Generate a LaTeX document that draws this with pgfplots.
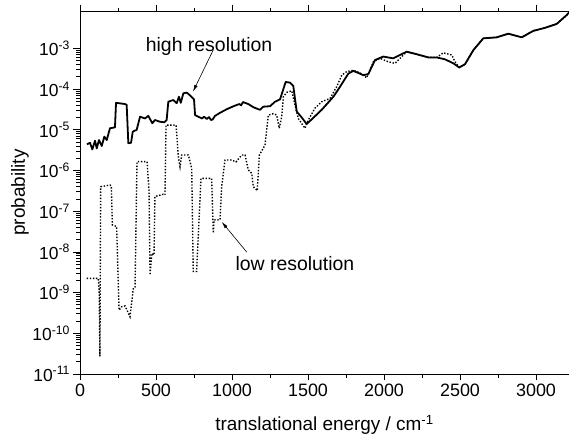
\documentclass[border=0pt]{standalone}
\usepackage{fontspec}
\setmainfont{Liberation Sans}
\usepackage{pgfplots}
\pgfplotsset{compat=1.18}
\usetikzlibrary{arrows.meta}
\newcommand\yl[1]{\fontsize{17.5}{19}\selectfont 10\textsuperscript{#1}}
\begin{document}
\begin{tikzpicture}
\begin{axis}[
  scale only axis, width=489bp, height=363bp,
  ymode=log, xmin=0, xmax=3217, ymin=1e-11, ymax=8.3e-3,
  axis x line*=box, axis y line*=left,
  axis line style={line width=0.9pt,-},
  every outer x axis line/.append style={-},
  every outer y axis line/.append style={-},
  xtick={0,500,1000,1500,2000,2500,3000}, minor x tick num=1,
  ytick={1e-11,1e-10,1e-9,1e-8,1e-7,1e-6,1e-5,1e-4,1e-3},
  yticklabels={\yl{-11},\yl{-10},\yl{-9},\yl{-8},\yl{-7},\yl{-6},\yl{-5},\yl{-4},\yl{-3}},
  tick align=outside,
  major tick length=6.5bp, minor tick length=3.5bp,
  tick style={line width=0.8pt, black},
  /pgf/number format/assume math mode=true,
  /pgf/number format/1000 sep={},
  xticklabel style={font=\fontsize{18}{20}\selectfont},
  xlabel={translational energy / cm\textsuperscript{-1}},
  ylabel={probability},
  xlabel style={font=\fontsize{19}{22}\selectfont, at={(axis description cs:0.5,0)}, anchor=center, yshift=-51bp},
  ylabel style={font=\fontsize{19}{22}\selectfont, at={(axis description cs:-0.1227,0.5)}, anchor=center},
]
\coordinate (O) at (rel axis cs:0,0);
\addplot[black, line width=1.4pt, dash pattern=on 1.4pt off 1.7pt] coordinates {
(44,2.24e-9)(120,2.24e-9)(126,1.2e-9)(131,2.7e-11)(136,4.0e-7)(197,4.4e-7)(206,4.2e-7)(213,4.6e-8)(241,4.2e-8)(257,3.7e-10)(274,4.5e-10)(296,4.7e-10)(314,3.4e-10)(329,2.56e-10)(351,1.3e-9)(362,1.37e-9)(375,1.65e-6)(441,1.65e-6)(454,3.3e-7)(461,2.7e-9)(472,9.2e-9)(487,8.4e-9)(493,2.3e-7)(548,2.6e-7)(559,2.5e-7)(566,1.31e-5)(632,1.3e-5)(647,2.2e-6)(658,1.24e-6)(669,2.4e-6)(713,2.4e-6)(735,1.13e-6)(745,3.3e-9)(767,3.3e-9)(796,6.4e-7)(866,6.4e-7)(877,2.9e-8)(882,6.1e-8)(921,6.1e-8)(932,4.0e-7)(954,1.81e-6)(998,1.81e-6)(1026,1.62e-6)(1064,2.4e-6)(1086,2.4e-6)(1107,1.03e-6)(1130,8.5e-7)(1140,4.0e-7)(1166,3.2e-7)(1180,2.4e-6)(1217,4.2e-6)(1239,2.3e-5)(1272,2.5e-5)(1294,2.3e-5)(1311,1.09e-5)(1327,2.1e-5)(1338,6.5e-5)(1360,8.3e-5)(1393,9.1e-5)(1414,4.1e-5)(1436,1.9e-5)(1480,1.09e-5)(1502,1.74e-5)(1546,3.4e-5)(1590,4.9e-5)(1645,5.9e-5)(1689,1.15e-4)(1722,2.2e-4)(1755,2.7e-4)(1798,2.9e-4)(1842,2.5e-4)(1886,1.9e-4)(1930,4.7e-4)(1974,5.7e-4)(2028,4.7e-4)(2072,4.3e-4)(2105,5.7e-4)(2149,8.3e-4)(2215,7.2e-4)(2292,6.0e-4)(2347,6.0e-4)(2390,7.8e-4)(2446,6.9e-4)(2467,4.7e-4)(2495,3.4e-4)(2533,4.1e-4)(2588,9.1e-4)(2653,1.77e-3)(2741,1.87e-3)(2818,2.3e-3)(2906,1.87e-3)(2982,2.7e-3)(3059,3.2e-3)(3136,4.0e-3)(3202,6.6e-3)(3217,7.6e-3)
};
\addplot[black, line width=1.8pt, line join=round] coordinates {
(46,4.4e-6)(66,4.8e-6)(81,3.3e-6)(99,5.4e-6)(110,3.5e-6)(125,5.6e-6)(143,4.0e-6)(160,6.8e-6)(176,5.6e-6)(197,1.09e-5)(230,1.15e-5)(237,4.6e-5)(296,4.3e-5)(307,4.1e-5)(318,4.7e-6)(336,4.8e-6)(347,9.0e-6)(373,1.0e-5)(395,2.1e-5)(428,1.9e-5)(449,2.2e-5)(476,1.45e-5)(493,1.74e-5)(526,1.58e-5)(555,1.53e-5)(570,1.74e-5)(581,4.9e-5)(614,5.4e-5)(636,4.5e-5)(651,6.5e-5)(663,4.6e-5)(680,7.9e-5)(702,8.2e-5)(728,6.8e-5)(750,5.6e-5)(757,2.3e-5)(778,2.1e-5)(803,1.9e-5)(816,2.1e-5)(834,1.85e-5)(849,2.05e-5)(862,1.74e-5)(873,1.8e-5)(888,2.2e-5)(920,2.6e-5)(965,3.2e-5)(1010,3.8e-5)(1048,4.3e-5)(1060,4.0e-5)(1072,4.8e-5)(1086,4.6e-5)(1107,4.3e-5)(1140,3.6e-5)(1184,3.1e-5)(1206,3.7e-5)(1250,3.8e-5)(1283,4.9e-5)(1316,5.6e-5)(1353,1.5e-4)(1382,1.44e-4)(1403,1.2e-4)(1426,2.8e-5)(1459,2.0e-5)(1491,1.39e-5)(1524,1.8e-5)(1590,3.1e-5)(1667,6.5e-5)(1711,1.15e-4)(1765,2.4e-4)(1798,2.8e-4)(1831,2.5e-4)(1864,2.2e-4)(1897,2.35e-4)(1941,5.2e-4)(1995,6.3e-4)(2061,5.7e-4)(2105,6.9e-4)(2149,8.3e-4)(2215,7.2e-4)(2292,6.0e-4)(2347,6.0e-4)(2401,5.4e-4)(2456,4.3e-4)(2495,3.4e-4)(2533,4.1e-4)(2588,9.1e-4)(2653,1.77e-3)(2741,1.87e-3)(2818,2.3e-3)(2906,1.87e-3)(2982,2.7e-3)(3059,3.2e-3)(3136,4.0e-3)(3202,6.6e-3)(3217,7.6e-3)
};
\node[font=\fontsize{19.5}{22}\selectfont, anchor=base] at (axis cs:849,8.6e-4) {high resolution};
\node[font=\fontsize{19.5}{22}\selectfont, anchor=base] at (axis cs:1414,3.45e-9) {low resolution};
\draw[line width=0.6pt, -{Latex[length=7bp,width=3.5bp]}] (axis cs:877,9.2e-4) -- (axis cs:743,8.6e-5);
\draw[line width=0.6pt, -{Latex[length=7bp,width=3.5bp]}] (axis cs:1097,9.9e-9) -- (axis cs:932,5.5e-8);
\end{axis}
\pgfresetboundingbox
\path[use as bounding box] (O) ++(-80bp,-68bp) rectangle ++(569bp,442bp);
\end{tikzpicture}
\end{document}
